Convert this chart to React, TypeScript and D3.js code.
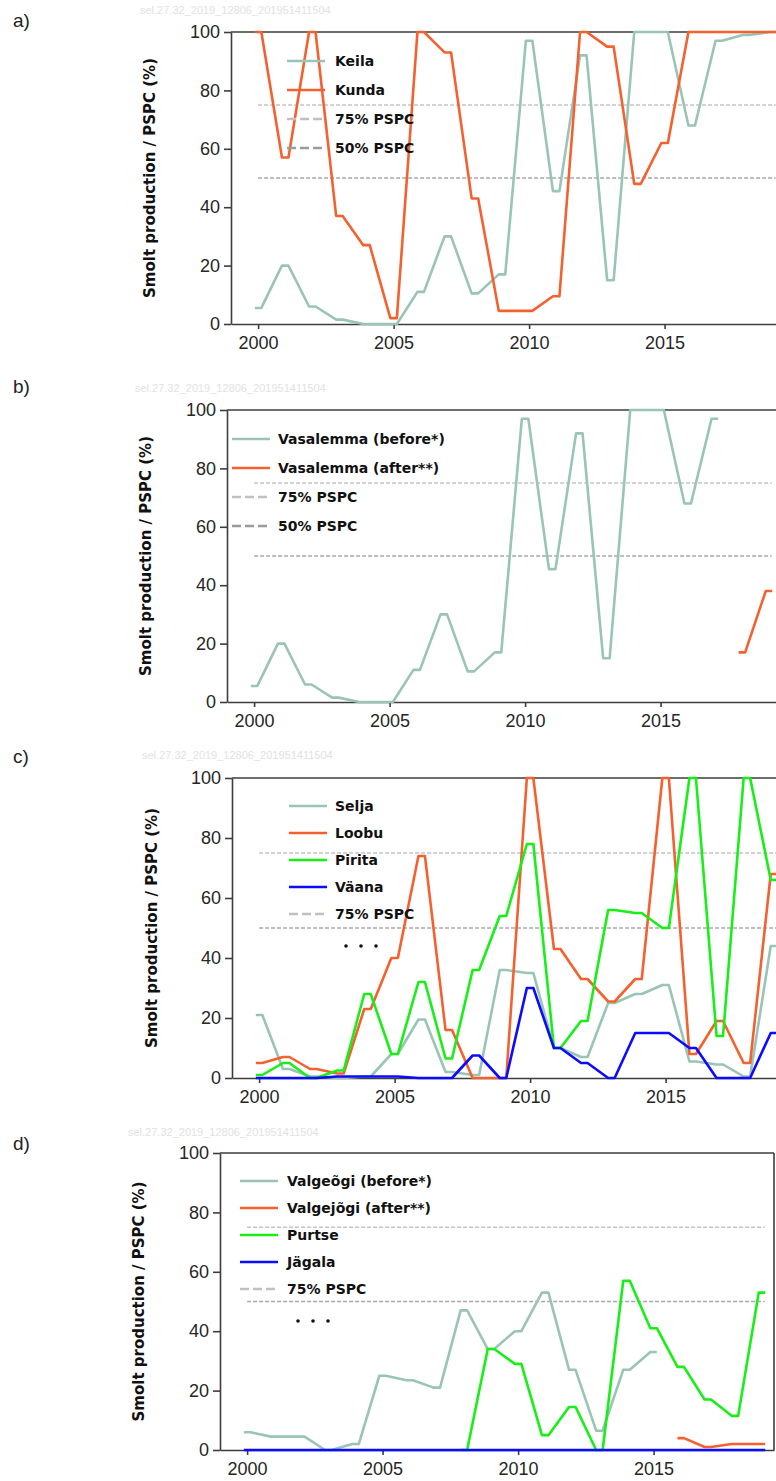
import { useEffect, useRef } from "react";
import * as d3 from "d3";

// years on the x axis, every series below is aligned to this list
const years = [
  2000, 2001, 2002, 2003, 2004, 2005, 2006, 2007, 2008, 2009,
  2010, 2011, 2012, 2013, 2014, 2015, 2016, 2017, 2018, 2019,
];

// a) Keila / Kunda
const keila = [5.5, 20, 6, 1.5, 0, 0, 11, 30, 10.5, 17, 97, 45.5, 92, 15, 100, 100, 68, 97, 99, 100];
const kunda = [100, 57, 100, 37, 27, 2, 100, 93, 43, 4.5, 4.5, 9.5, 100, 95, 48, 62, 100, 100, 100, 100];

// b) Vasalemma
const vasalemmaBefore = [5.5, 20, 6, 1.5, 0, 0, 11, 30, 10.5, 17, 97, 45.5, 92, 15, 100, 100, 68, 97, null, null];
const vasalemmaAfter = [null, null, null, null, null, null, null, null, null, null, null, null, null, null, null, null, null, null, 17, 38];

// c) Selja / Loobu / Pirita / Väana
const selja = [21, 3, 0.5, 0, 0.5, 8, 19.5, 2, 1, 36, 35, 10, 7, 25, 28, 31, 5.5, 4.5, 0.5, 44];
const loobu = [5, 7, 3, 1.5, 23, 40, 74, 16, 0, 0, 100, 43, 33, 25.5, 33, 100, 8, 19, 5, 68];
const pirita = [1, 5, 0, 2.5, 28, 8, 32, 6.5, 36, 54, 78, 10, 19, 56, 55, 50, 100, 14, 100, 66];
const vaana = [0, 0, 0, 0.5, 0.5, 0.5, 0, 0, 7.5, 0, 30, 10, 5, 0, 15, 15, 10, 0, 0, 15];

// d) Valgejõgi / Purtse / Jägala
const valgeogiBefore = [6, 4.5, 4.5, 0, 2, 25, 23.5, 21, 47, 34, 40, 53, 27, 6.5, 27, 33, null, null, null, null];
const valgejogiAfter = [null, null, null, null, null, null, null, null, null, null, null, null, null, null, null, null, 4, 1, 2, 2];
const purtse = [null, null, null, null, null, null, null, null, 0, 34, 29, 5, 14.5, 0, 57, 41, 28, 17, 11.5, 53];
const jagala = [0, 0, 0, 0, 0, 0, 0, 0, 0, 0, 0, 0, 0, 0, 0, 0, 0, 0, 0, 0];

const refLevels = [75, 50];
const refLabels = ["75% PSPC", "50% PSPC"];
const yTicks = [0, 20, 40, 60, 80, 100];
const xTicks = [2000, 2005, 2010, 2015];
const watermark = "sel.27.32_2019_12806_201951411504";
const yTitle = "Smolt production / PSPC (%)";

const TEAL = "#9ac4b5";
const ORANGE = "#f4612f";
const GREEN = "#17ef17";
const BLUE = "#0b0bff";
const AXIS = "#3d3d3d";
const REF_COLORS = ["#c4c4c4", "#a9a9a9"];
const REF_LEGEND_COLORS = ["#c0c0c0", "#9a9a9a"];
const PX_PER_YEAR = 27.1;
const HALF_STEP = 0.12; // each yearly value is drawn as a short flat segment

const panels = [
  {
    letter: "a)", letterY: 27, markY: 14, markX: 140, titleX: 150,
    box: { left: 231, top: 32, bottom: 324, right: 776 },
    series: [
      { name: "Keila", values: keila, color: TEAL },
      { name: "Kunda", values: kunda, color: ORANGE },
    ],
    refLegend: 2, dots: false, rightBorder: false,
    legend: { x0: 287, x1: 325, tx: 335, y0: 61, step: 29 },
  },
  {
    letter: "b)", letterY: 393, markY: 392, markX: 135, titleX: 146,
    box: { left: 227, top: 410, bottom: 702, right: 776 },
    series: [
      { name: "Vasalemma (before*)", values: vasalemmaBefore, color: TEAL },
      { name: "Vasalemma (after**)", values: vasalemmaAfter, color: ORANGE },
    ],
    refLegend: 2, dots: false, rightBorder: false,
    legend: { x0: 232, x1: 270, tx: 278, y0: 439, step: 29 },
  },
  {
    letter: "c)", letterY: 763, markY: 759, markX: 142, titleX: 152,
    box: { left: 232, top: 778, bottom: 1078, right: 776 },
    series: [
      { name: "Selja", values: selja, color: TEAL },
      { name: "Loobu", values: loobu, color: ORANGE },
      { name: "Pirita", values: pirita, color: GREEN },
      { name: "Väana", values: vaana, color: BLUE },
    ],
    refLegend: 1, dots: true, rightBorder: false,
    legend: { x0: 289, x1: 327, tx: 335, y0: 806, step: 27 },
  },
  {
    letter: "d)", letterY: 1150, markY: 1136, markX: 128, titleX: 139,
    box: { left: 220, top: 1153, bottom: 1450, right: 774 },
    series: [
      { name: "Valgeõgi (before*)", values: valgeogiBefore, color: TEAL },
      { name: "Valgejõgi (after**)", values: valgejogiAfter, color: ORANGE },
      { name: "Purtse", values: purtse, color: GREEN },
      { name: "Jägala", values: jagala, color: BLUE },
    ],
    refLegend: 1, dots: true, rightBorder: true,
    legend: { x0: 240, x1: 278, tx: 287, y0: 1181, step: 27 },
  },
];

type Pt = [number, number] | null;

const stepPoints = (values: (number | null)[]): Pt[] => {
  const pts: Pt[] = [];
  values.forEach((v, i) => {
    if (v === null) {
      pts.push(null);
    } else {
      pts.push([years[i] - HALF_STEP, v]);
      pts.push([years[i] + HALF_STEP, v]);
    }
  });
  return pts;
};

function drawPanel(svg: any, p: any) {
  const { left, top, bottom, right } = p.box;
  const x = d3
    .scaleLinear()
    .domain([1999, 1999 + (right - left) / PX_PER_YEAR])
    .range([left, right]);
  const y = d3.scaleLinear().domain([0, 100]).range([bottom, top]);

  const g = svg.append("g");

  // panel letter and faint id stamp
  g.append("text")
    .attr("x", 13)
    .attr("y", p.letterY)
    .attr("font-family", "Liberation Sans, Arial, sans-serif")
    .attr("font-size", 19)
    .attr("fill", "#222")
    .text(p.letter);

  g.append("text")
    .attr("x", p.markX)
    .attr("y", p.markY)
    .attr("font-family", "Liberation Sans, Arial, sans-serif")
    .attr("font-size", 11)
    .attr("fill", "#e2e2e2")
    .text(watermark);

  // reference lines
  refLevels.forEach((lvl, i) => {
    g.append("line")
      .attr("x1", x(2000))
      .attr("x2", Math.min(x(2019.1), right))
      .attr("y1", y(lvl))
      .attr("y2", y(lvl))
      .attr("stroke", REF_COLORS[i])
      .attr("stroke-width", 1.4)
      .attr("stroke-dasharray", "4 2");
  });

  // axes
  const yAxis = d3
    .axisLeft(y)
    .tickValues(yTicks)
    .tickSize(7)
    .tickSizeOuter(0)
    .tickPadding(4);
  g.append("g").attr("transform", `translate(${left},0)`).call(yAxis);

  const xAxis = d3
    .axisBottom(x)
    .tickValues(xTicks)
    .tickFormat(d3.format("d"))
    .tickSize(5)
    .tickSizeOuter(0)
    .tickPadding(7);
  g.append("g").attr("transform", `translate(0,${bottom})`).call(xAxis);

  g.selectAll(".domain, .tick line").attr("stroke", AXIS).attr("stroke-width", 1.6);
  g.selectAll(".tick text")
    .attr("font-family", "Liberation Sans, Arial, sans-serif")
    .attr("font-size", 18)
    .attr("fill", "#262626");

  // top (and right) frame
  g.append("line")
    .attr("x1", left)
    .attr("x2", right)
    .attr("y1", top)
    .attr("y2", top)
    .attr("stroke", AXIS)
    .attr("stroke-width", 1.6);
  if (p.rightBorder) {
    g.append("line")
      .attr("x1", right)
      .attr("x2", right)
      .attr("y1", top)
      .attr("y2", bottom)
      .attr("stroke", AXIS)
      .attr("stroke-width", 1.6);
  }

  // y title
  g.append("text")
    .attr("transform", `translate(${p.titleX},${(top + bottom) / 2}) rotate(-90)`)
    .attr("text-anchor", "middle")
    .attr("dominant-baseline", "central")
    .attr("font-family", "DejaVu Sans, Verdana, sans-serif")
    .attr("font-weight", "bold")
    .attr("font-size", 15)
    .attr("fill", "#111")
    .text(yTitle);

  // series
  const line = d3
    .line<Pt>()
    .defined((d) => d !== null)
    .x((d) => x((d as [number, number])[0]))
    .y((d) => y((d as [number, number])[1]));

  p.series.forEach((s: any) => {
    g.append("path")
      .datum(stepPoints(s.values))
      .attr("fill", "none")
      .attr("stroke", s.color)
      .attr("stroke-width", 2.6)
      .attr("stroke-linejoin", "round")
      .attr("d", line);
  });

  // legend
  const L = p.legend;
  const legendText = (row: number, label: string) =>
    g.append("text")
      .attr("x", L.tx)
      .attr("y", L.y0 + row * L.step + 5)
      .attr("font-family", "DejaVu Sans, Verdana, sans-serif")
      .attr("font-weight", "bold")
      .attr("font-size", 14)
      .attr("fill", "#111")
      .text(label);

  p.series.forEach((s: any, i: number) => {
    g.append("line")
      .attr("x1", L.x0)
      .attr("x2", L.x1)
      .attr("y1", L.y0 + i * L.step)
      .attr("y2", L.y0 + i * L.step)
      .attr("stroke", s.color)
      .attr("stroke-width", 2.6);
    legendText(i, s.name);
  });

  for (let k = 0; k < p.refLegend; k++) {
    const row = p.series.length + k;
    g.append("line")
      .attr("x1", L.x0)
      .attr("x2", L.x1)
      .attr("y1", L.y0 + row * L.step)
      .attr("y2", L.y0 + row * L.step)
      .attr("stroke", REF_LEGEND_COLORS[k])
      .attr("stroke-width", 2.4)
      .attr("stroke-dasharray", "9 4");
    legendText(row, refLabels[k]);
  }

  if (p.dots) {
    const row = p.series.length + p.refLegend;
    [0, 1, 2].forEach((j) => {
      g.append("circle")
        .attr("cx", L.tx + 11 + j * 15)
        .attr("cy", L.y0 + row * L.step + 5)
        .attr("r", 1.8)
        .attr("fill", "#111");
    });
  }
}

const App = () => {
  const svgRef = useRef<SVGSVGElement>(null);

  useEffect(() => {
    const svg = d3.select(svgRef.current);
    svg.selectAll("*").remove();
    panels.forEach((p) => drawPanel(svg, p));
  }, []);

  return (
    <div style={{ position: "absolute", left: 0, top: 0 }}>
      <svg
        ref={svgRef}
        width={776}
        height={1481}
        style={{ display: "block", background: "#fff" }}
      />
    </div>
  );
};

export default App;
